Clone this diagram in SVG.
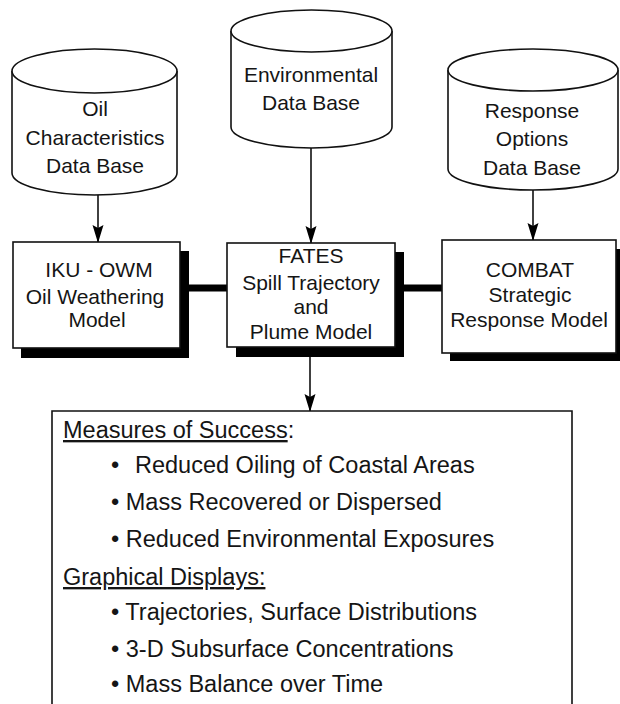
<svg xmlns="http://www.w3.org/2000/svg" width="620" height="704" viewBox="0 0 620 704">
<style>
.shape{fill:#fff;stroke:#111;stroke-width:1.6}
.shadow{fill:#000}
.t{font-family:"Liberation Sans",Arial,Helvetica,sans-serif;font-size:21px;fill:#151515;text-anchor:middle}
.r{font-family:"Liberation Sans",Arial,Helvetica,sans-serif;font-size:23.5px;fill:#151515}
.line{stroke:#111;stroke-width:1.6;fill:none;marker-end:url(#arr)}
.thick{stroke:#000;stroke-width:7;fill:none}
</style>
<defs>
<marker id="arr" viewBox="0 0 18 12" refX="17" refY="6" markerWidth="18" markerHeight="12" markerUnits="userSpaceOnUse" orient="auto">
<path d="M0,0.5 L3,6 L0,11.5 L18,6 Z" fill="#000"/>
</marker>
</defs>
<rect width="620" height="704" fill="#fff"/>
<g id="connectors">
<line class="thick" x1="185" y1="288" x2="228" y2="288"/>
<line class="thick" x1="400" y1="288" x2="443" y2="288"/>
<path class="line" d="M98,195 V242"/>
<path class="line" d="M311,148 V243"/>
<path class="line" d="M533,190 V240"/>
<path class="line" d="M310,357 V411"/>
</g>
<g id="oil-db">
<path class="shape" d="M12,71 A82.5,22 0 0 1 177,71 V173 A82.5,22 0 0 1 12,173 Z"/>
<path class="shape" d="M12,71 A82.5,22 0 0 0 177,71"/>
<text class="t" x="95" y="115.5">Oil</text>
<text class="t" x="95" y="144.5">Characteristics</text>
<text class="t" x="95" y="172.5">Data Base</text>
</g>
<g id="env-db">
<path class="shape" d="M231,31 A80.5,21 0 0 1 392,31 V127 A80.5,21 0 0 1 231,127 Z"/>
<path class="shape" d="M231,31 A80.5,21 0 0 0 392,31"/>
<text class="t" x="311" y="81.5">Environmental</text>
<text class="t" x="311" y="109.5">Data Base</text>
</g>
<g id="resp-db">
<path class="shape" d="M448,70 A85,21 0 0 1 618,70 V169 A85,21 0 0 1 448,169 Z"/>
<path class="shape" d="M448,70 A85,21 0 0 0 618,70"/>
<text class="t" x="532" y="117.5">Response</text>
<text class="t" x="532" y="145.5">Options</text>
<text class="t" x="532" y="174.5">Data Base</text>
</g>
<g id="iku-owm">
<rect class="shadow" x="21" y="251" width="168" height="107"/>
<rect class="shape" x="13" y="242" width="167" height="106"/>
<text class="t" x="99" y="277">IKU - OWM</text>
<text class="t" x="95" y="304">Oil Weathering</text>
<text class="t" x="97" y="327">Model</text>
</g>
<g id="fates">
<rect class="shadow" x="236" y="252" width="168" height="105"/>
<rect class="shape" x="227" y="243" width="168" height="104"/>
<text class="t" x="311" y="263">FATES</text>
<text class="t" x="311" y="290">Spill Trajectory</text>
<text class="t" x="311" y="314">and</text>
<text class="t" x="311" y="339">Plume Model</text>
</g>
<g id="combat">
<rect class="shadow" x="450" y="249" width="174" height="112"/>
<rect class="shape" x="442" y="240" width="174" height="113"/>
<text class="t" x="530" y="277">COMBAT</text>
<text class="t" x="530" y="302">Strategic</text>
<text class="t" x="529" y="327">Response Model</text>
</g>
<g id="results">
<path class="shape" d="M52,704 V411 H572 V704"/>
<text class="r" x="63" y="438"><tspan text-decoration="underline">Measures of Success</tspan>:</text>
<text class="r" x="111" y="473">•<tspan x="135">Reduced Oiling of Coastal Areas</tspan></text>
<text class="r" x="111" y="510">• Mass Recovered or Dispersed</text>
<text class="r" x="111" y="547">• Reduced Environmental Exposures</text>
<text class="r" x="63" y="585" text-decoration="underline">Graphical Displays:</text>
<text class="r" x="111" y="620">• Trajectories, Surface Distributions</text>
<text class="r" x="111" y="657">• 3-D Subsurface Concentrations</text>
<text class="r" x="111" y="692">• Mass Balance over Time</text>
</g>
</svg>
